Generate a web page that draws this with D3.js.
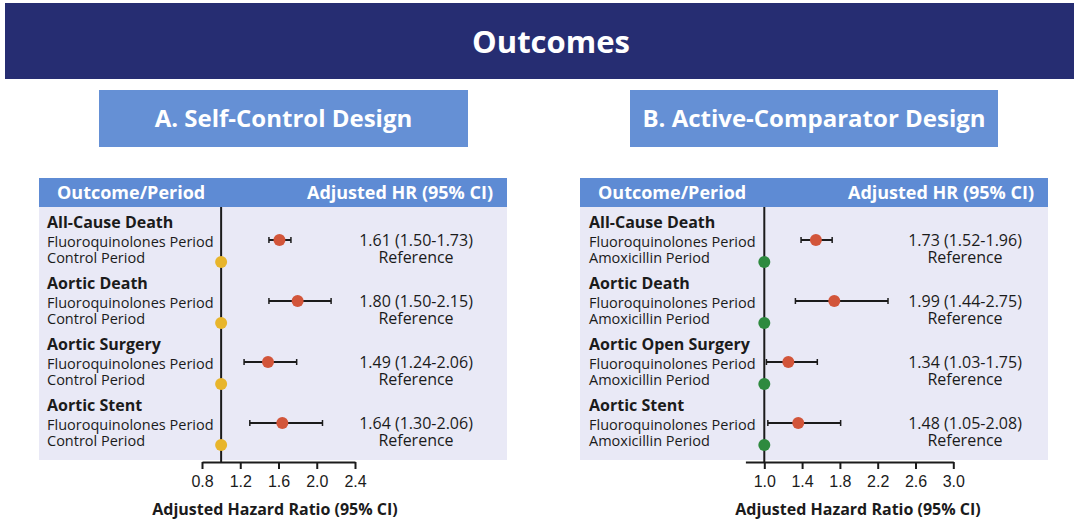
<!DOCTYPE html>
<html>
<head>
<meta charset="utf-8">
<script src="https://cdn.jsdelivr.net/npm/d3@7"></script>
<style>
  body { margin: 0; background: #fff; }
  svg { display: block; font-family: "Open Sans", "Noto Sans", sans-serif; }
</style>
</head>
<body>
<svg id="chart" width="1074" height="522"></svg>
<script>
// ---- data ----
var outcomesA = ["All-Cause Death", "Aortic Death", "Aortic Surgery", "Aortic Stent"];
var outcomesB = ["All-Cause Death", "Aortic Death", "Aortic Open Surgery", "Aortic Stent"];
var exposedLabel = "Fluoroquinolones Period";
var comparatorA = "Control Period";
var comparatorB = "Amoxicillin Period";

var hrA = [1.61, 1.80, 1.49, 1.64];
var ciLowA = [1.50, 1.50, 1.24, 1.30];
var ciHighA = [1.73, 2.15, 1.79, 2.06];   // bar for surgery is drawn shorter than its label
var hrLabelsA = ["1.61 (1.50-1.73)", "1.80 (1.50-2.15)", "1.49 (1.24-2.06)", "1.64 (1.30-2.06)"];

var hrB = [1.73, 1.99, 1.34, 1.48];
var ciLowB = [1.52, 1.44, 1.03, 1.05];
var ciHighB = [1.96, 2.75, 1.75, 2.08];
var hrLabelsB = ["1.73 (1.52-1.96)", "1.99 (1.44-2.75)", "1.34 (1.03-1.75)", "1.48 (1.05-2.08)"];

var ticksA = [0.8, 1.2, 1.6, 2.0, 2.4];
var ticksB = [1.0, 1.4, 1.8, 2.2, 2.6, 3.0];

var navy = "#262d72",
	titleBlue = "#6590d5",
	headBlue = "#5e8bd4",
	bodyFill = "#e9e9f6",
	ink = "#1b1b1b",
	red = "#d2553a";

var svg = d3.select("#chart");

// top banner
svg.append("rect").attr("x", 5).attr("y", 3).attr("width", 1069).attr("height", 76).attr("fill", navy);
svg.append("text").attr("x", 551).attr("y", 53)
	.attr("text-anchor", "middle").attr("fill", "#fff")
	.attr("font-size", 31).attr("font-weight", 700)
	.text("Outcomes");

var panels = [
	{
		title: "A. Self-Control Design", boxX: 99, boxW: 369,
		left: 39, right: 507, textX: 47, hrX: 416,
		domain: [0.8, 2.4], range: [202, 355], ticks: ticksA, stretch: 1,
		outcomes: outcomesA, hr: hrA, lo: ciLowA, hi: ciHighA, labels: hrLabelsA,
		comparator: comparatorA, refColor: "#e8b52b", axisTitleX: 275
	},
	{
		title: "B. Active-Comparator Design", boxX: 630, boxW: 368,
		left: 580, right: 1048, textX: 589, hrX: 965,
		domain: [0.8, 3.0], range: [745.4, 953.3], ticks: ticksB, stretch: 0.748,
		outcomes: outcomesB, hr: hrB, lo: ciLowB, hi: ciHighB, labels: hrLabelsB,
		comparator: comparatorB, refColor: "#2e8a3f", axisTitleX: 858
	}
];

var headTop = 178, bodyTop = 207, bodyBottom = 460, axisY = 462;

// outcome group baselines
var groupY = d3.scalePoint().domain([0, 1, 2, 3]).range([228, 411]);

panels.forEach(function (p) {
	var g = svg.append("g");

	// panel title box
	g.append("rect").attr("x", p.boxX).attr("y", 90).attr("width", p.boxW).attr("height", 57).attr("fill", titleBlue);
	g.append("text").attr("x", p.boxX + p.boxW / 2).attr("y", 127)
		.attr("text-anchor", "middle").attr("fill", "#fff")
		.attr("font-size", 24).attr("font-weight", 700)
		.text(p.title);

	// table header + body
	g.append("rect").attr("x", p.left).attr("y", headTop).attr("width", p.right - p.left).attr("height", bodyTop - headTop).attr("fill", headBlue);
	g.append("rect").attr("x", p.left).attr("y", bodyTop).attr("width", p.right - p.left).attr("height", bodyBottom - bodyTop).attr("fill", bodyFill);
	g.append("text").attr("x", p.left + 18).attr("y", 199)
		.attr("fill", "#fff").attr("font-size", 18).attr("font-weight", 700)
		.text("Outcome/Period");
	g.append("text").attr("x", p.right - 14).attr("y", 199)
		.attr("text-anchor", "end").attr("fill", "#fff").attr("font-size", 18).attr("font-weight", 700)
		.text("Adjusted HR (95% CI)");

	var x = d3.scaleLinear().domain(p.domain).range(p.range);
	// the plotted marks in the figure use their own spacing from the 1.0 line
	var mx = d3.scaleLinear().domain([1, 3]).range([x(1), x(1) + (x(3) - x(1)) * p.stretch]);

	// reference line at HR = 1
	g.append("line").attr("x1", mx(1)).attr("x2", mx(1)).attr("y1", bodyTop).attr("y2", axisY)
		.attr("stroke", ink).attr("stroke-width", 2);

	// axis
	var axis = g.append("g").attr("transform", "translate(0," + axisY + ")")
		.call(d3.axisBottom(x).tickValues(p.ticks).tickSize(7).tickSizeOuter(0).tickPadding(7)
			.tickFormat(d3.format(".1f")));
	axis.select(".domain").attr("stroke", ink).attr("stroke-width", 2);
	axis.selectAll(".tick line").attr("stroke", ink).attr("stroke-width", 2);
	axis.selectAll(".tick text").attr("fill", ink).attr("font-size", 16).attr("font-family", null);

	g.append("text").attr("x", p.axisTitleX).attr("y", 515)
		.attr("text-anchor", "middle").attr("fill", ink).attr("font-size", 16).attr("font-weight", 700)
		.text("Adjusted Hazard Ratio (95% CI)");

	// rows
	var rows = g.selectAll(".row").data(p.outcomes).enter().append("g").attr("class", "row");

	rows.append("text").attr("x", p.textX).attr("y", function (d, i) { return groupY(i); })
		.attr("fill", ink).attr("font-size", 16).attr("font-weight", 700)
		.text(function (d) { return d; });
	rows.append("text").attr("x", p.textX).attr("y", function (d, i) { return groupY(i) + 19; })
		.attr("fill", ink).attr("font-size", 14.5)
		.text(exposedLabel);
	rows.append("text").attr("x", p.textX).attr("y", function (d, i) { return groupY(i) + 35; })
		.attr("fill", ink).attr("font-size", 14.5)
		.text(p.comparator);

	rows.append("text").attr("x", p.hrX).attr("y", function (d, i) { return groupY(i) + 18; })
		.attr("text-anchor", "middle").attr("fill", ink).attr("font-size", 16)
		.text(function (d, i) { return p.labels[i]; });
	rows.append("text").attr("x", p.hrX).attr("y", function (d, i) { return groupY(i) + 35; })
		.attr("text-anchor", "middle").attr("fill", ink).attr("font-size", 16)
		.text("Reference");

	// CI bars with end caps
	rows.append("line")
		.attr("x1", function (d, i) { return mx(p.lo[i]); })
		.attr("x2", function (d, i) { return mx(p.hi[i]); })
		.attr("y1", function (d, i) { return groupY(i) + 12; })
		.attr("y2", function (d, i) { return groupY(i) + 12; })
		.attr("stroke", ink).attr("stroke-width", 2);
	[p.lo, p.hi].forEach(function (arr) {
		rows.append("line")
			.attr("x1", function (d, i) { return mx(arr[i]); })
			.attr("x2", function (d, i) { return mx(arr[i]); })
			.attr("y1", function (d, i) { return groupY(i) + 9; })
			.attr("y2", function (d, i) { return groupY(i) + 15; })
			.attr("stroke", ink).attr("stroke-width", 1.5);
	});

	rows.append("circle")
		.attr("cx", function (d, i) { return mx(p.hr[i]); })
		.attr("cy", function (d, i) { return groupY(i) + 12; })
		.attr("r", 6).attr("fill", red);

	// comparator (reference) points at HR = 1
	rows.append("circle")
		.attr("cx", mx(1))
		.attr("cy", function (d, i) { return groupY(i) + 34; })
		.attr("r", 6).attr("fill", p.refColor);
});
</script>
</body>
</html>
